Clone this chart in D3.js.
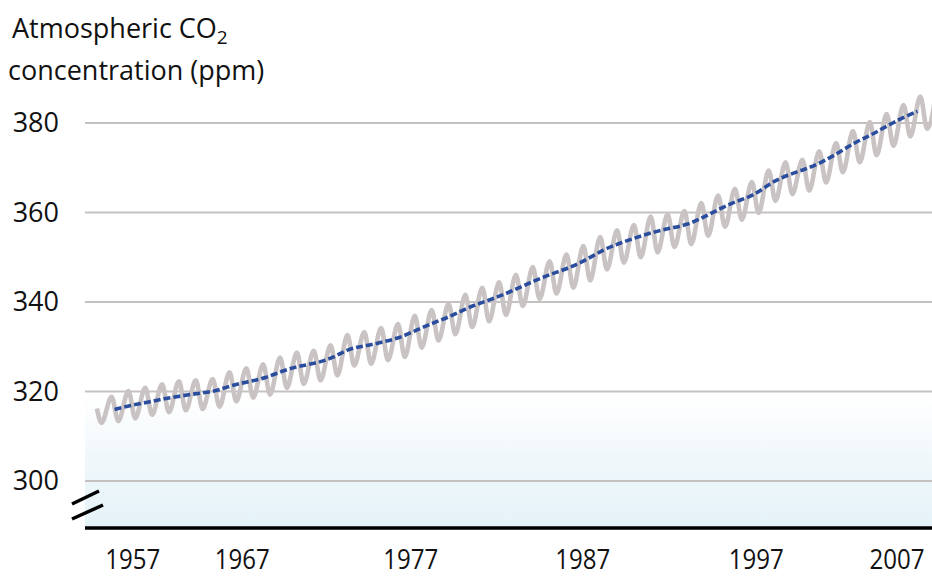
<!DOCTYPE html>
<html>
<head>
<meta charset="utf-8">
<script src="https://cdn.jsdelivr.net/npm/d3@7"></script>
<style>
  body { margin: 0; background: #fff; }
  svg text { font-family: "Open Sans", sans-serif; fill: #111; }
</style>
</head>
<body>
<svg id="chart" width="932" height="578"></svg>
<script>
// annual mean (blue dashed line), plotted at mid-year
const meanYears = [1959.55, 1960.5, 1961.5, 1962.5, 1963.5, 1964.5, 1965.5, 1966.5, 1967.5, 1968.5,
  1969.5, 1970.5, 1971.5, 1972.5, 1973.5, 1974.5, 1975.5, 1976.5, 1977.5, 1978.5,
  1979.5, 1980.5, 1981.5, 1982.5, 1983.5, 1984.5, 1985.5, 1986.5, 1987.5, 1988.5,
  1989.5, 1990.5, 1991.5, 1992.5, 1993.5, 1994.5, 1995.5, 1996.5, 1997.5, 1998.5,
  1999.5, 2000.5, 2001.5, 2002.5, 2003.5, 2004.5, 2005.5, 2006.5, 2007.2];
const meanValues = [316.0, 316.9, 317.6, 318.4, 319.0, 319.6, 320.0, 321.4, 322.2, 323.0,
  324.6, 325.7, 326.3, 327.5, 329.7, 330.2, 331.1, 332.0, 333.8, 335.4,
  336.8, 338.7, 340.1, 341.4, 343.1, 344.8, 346.3, 347.6, 349.3, 351.6,
  353.1, 354.4, 355.6, 356.5, 357.2, 358.9, 360.9, 362.6, 363.8, 366.7,
  368.4, 369.6, 371.2, 373.3, 375.7, 377.4, 379.6, 381.5, 382.6];

// seasonal cycle (grey line): May maxima and early-October minima
const cycleYears = [1958.5, 1958.77,
  1959.37, 1959.77, 1960.37, 1960.77, 1961.37, 1961.77, 1962.37, 1962.77, 1963.37, 1963.77,
  1964.37, 1964.77, 1965.37, 1965.77, 1966.37, 1966.77, 1967.37, 1967.77, 1968.37, 1968.77,
  1969.37, 1969.77, 1970.37, 1970.77, 1971.37, 1971.77, 1972.37, 1972.77, 1973.37, 1973.77,
  1974.37, 1974.77, 1975.37, 1975.77, 1976.37, 1976.77, 1977.37, 1977.77, 1978.37, 1978.77,
  1979.37, 1979.77, 1980.37, 1980.77, 1981.37, 1981.77, 1982.37, 1982.77, 1983.37, 1983.77,
  1984.37, 1984.77, 1985.37, 1985.77, 1986.37, 1986.77, 1987.37, 1987.77, 1988.37, 1988.77,
  1989.37, 1989.77, 1990.37, 1990.77, 1991.37, 1991.77, 1992.37, 1992.77, 1993.37, 1993.77,
  1994.37, 1994.77, 1995.37, 1995.77, 1996.37, 1996.77, 1997.37, 1997.77, 1998.37, 1998.77,
  1999.37, 1999.77, 2000.37, 2000.77, 2001.37, 2001.77, 2002.37, 2002.77, 2003.37, 2003.77,
  2004.37, 2004.77, 2005.37, 2005.77, 2006.37, 2006.77, 2007.37, 2007.77, 2008.37];
const cycleValues = [316.2, 313.0,
  318.8, 313.4, 320.1, 314.0, 320.8, 314.8, 321.6, 315.4, 322.3, 315.8,
  322.5, 316.1, 322.8, 316.6, 324.3, 317.8, 325.2, 318.6, 326.1, 319.3,
  327.6, 320.8, 328.7, 321.7, 329.1, 322.5, 330.3, 323.6, 332.6, 325.8,
  333.3, 326.2, 334.2, 327.0, 335.1, 327.7, 336.9, 329.8, 338.2, 331.4,
  339.6, 332.8, 341.6, 334.4, 343.2, 335.7, 344.4, 337.1, 346.1, 339.1,
  347.8, 340.7, 349.1, 341.9, 350.6, 343.2, 352.5, 344.8, 354.5, 347.3,
  356.0, 348.8, 357.2, 350.0, 359.1, 351.1, 359.6, 352.3, 360.3, 352.9,
  362.1, 354.8, 363.8, 356.8, 365.3, 358.4, 366.8, 359.9, 369.4, 362.6,
  371.2, 364.1, 371.8, 364.9, 373.7, 366.7, 375.5, 369.0, 378.2, 371.2,
  380.2, 372.8, 382.0, 374.9, 384.0, 377.0, 385.9, 378.7, 388.2];

const yTicks = [300, 320, 340, 360, 380];
const xTickLabels = ["1957", "1967", "1977", "1987", "1997", "2007"];
const xTickAt = [1960.6, 1967.1, 1977.1, 1987.3, 1997.6, 2005.95];

const svg = d3.select("#chart");
const left = 85, right = 932, baseY = 528;

const x = d3.scaleLinear().domain([1958, 2008]).range([88.5, 931]);
const y = d3.scaleLinear().domain([300, 380]).range([481, 123]);

// pale blue wash at the bottom of the plot
const defs = svg.append("defs");
const grad = defs.append("linearGradient")
  .attr("id", "wash").attr("x1", 0).attr("y1", 0).attr("x2", 0).attr("y2", 1);
grad.append("stop").attr("offset", 0).attr("stop-color", "#ffffff");
grad.append("stop").attr("offset", 0.45).attr("stop-color", "#f1f8fb");
grad.append("stop").attr("offset", 1).attr("stop-color", "#e4f2f8");
svg.append("rect")
  .attr("x", left).attr("y", 395)
  .attr("width", right - left).attr("height", baseY - 395)
  .attr("fill", "url(#wash)");

defs.append("clipPath").attr("id", "plot-clip")
  .append("rect").attr("x", left).attr("y", 0).attr("width", right - left).attr("height", baseY);

// gridlines
svg.append("g").selectAll("line")
  .data(yTicks)
  .join("line")
  .attr("x1", left).attr("x2", right)
  .attr("y1", d => y(d)).attr("y2", d => y(d))
  .attr("stroke", "#c6c1c1").attr("stroke-width", 2);

// y labels
const yAxis = svg.append("g")
  .attr("transform", "translate(59,0)")
  .call(d3.axisLeft(y).tickValues(yTicks).tickSize(0).tickPadding(0));
yAxis.select(".domain").remove();
yAxis.selectAll("text")
  .style("font-family", "'Open Sans', sans-serif")
  .style("font-size", "27px")
  .attr("fill", "#111");

const cycle = cycleYears.map((t, i) => [t, cycleValues[i]]);
const mean = meanYears.map((t, i) => [t, meanValues[i]]);

const plot = svg.append("g").attr("clip-path", "url(#plot-clip)");
plot.append("path")
  .datum(cycle)
  .attr("fill", "none")
  .attr("stroke", "#c9c3c3")
  .attr("stroke-width", 4.6)
  .attr("stroke-linejoin", "round")
  .attr("d", d3.line().x(d => x(d[0])).y(d => y(d[1])).curve(d3.curveMonotoneX));

plot.append("path")
  .datum(mean)
  .attr("fill", "none")
  .attr("stroke", "#2b4d9d")
  .attr("stroke-width", 3.6)
  .attr("stroke-dasharray", "7,3")
  .attr("d", d3.line().x(d => x(d[0])).y(d => y(d[1])).curve(d3.curveBasis));

// baseline
svg.append("line")
  .attr("x1", left).attr("x2", right)
  .attr("y1", baseY).attr("y2", baseY)
  .attr("stroke", "#000").attr("stroke-width", 3.5);

// axis break marks
const breaks = [[[72, 504], [99, 491]], [[72, 519], [103, 505]]];
svg.append("g").selectAll("line")
  .data(breaks)
  .join("line")
  .attr("x1", d => d[0][0]).attr("y1", d => d[0][1])
  .attr("x2", d => d[1][0]).attr("y2", d => d[1][1])
  .attr("stroke", "#000").attr("stroke-width", 3.5);

// x labels
const xAxis = svg.append("g")
  .attr("transform", `translate(0,${baseY})`)
  .call(d3.axisBottom(x).tickValues(xTickAt).tickSize(0).tickFormat((d, i) => xTickLabels[i]));
xAxis.select(".domain").remove();
xAxis.selectAll("text")
  .attr("y", 41).attr("dy", null)
  .style("font-family", "'Open Sans', sans-serif")
  .style("font-size", "27px")
  .attr("fill", "#111")
  .attr("textLength", 55)
  .attr("lengthAdjust", "spacingAndGlyphs");

// title
const t1 = svg.append("text").attr("x", 12).attr("y", 38)
  .style("font-size", "27px");
t1.append("tspan").text("Atmospheric CO");
t1.append("tspan").attr("dy", 6).style("font-size", "19px").text("2");
svg.append("text").attr("x", 8).attr("y", 80)
  .style("font-size", "27px")
  .text("concentration (ppm)");
</script>
</body>
</html>
